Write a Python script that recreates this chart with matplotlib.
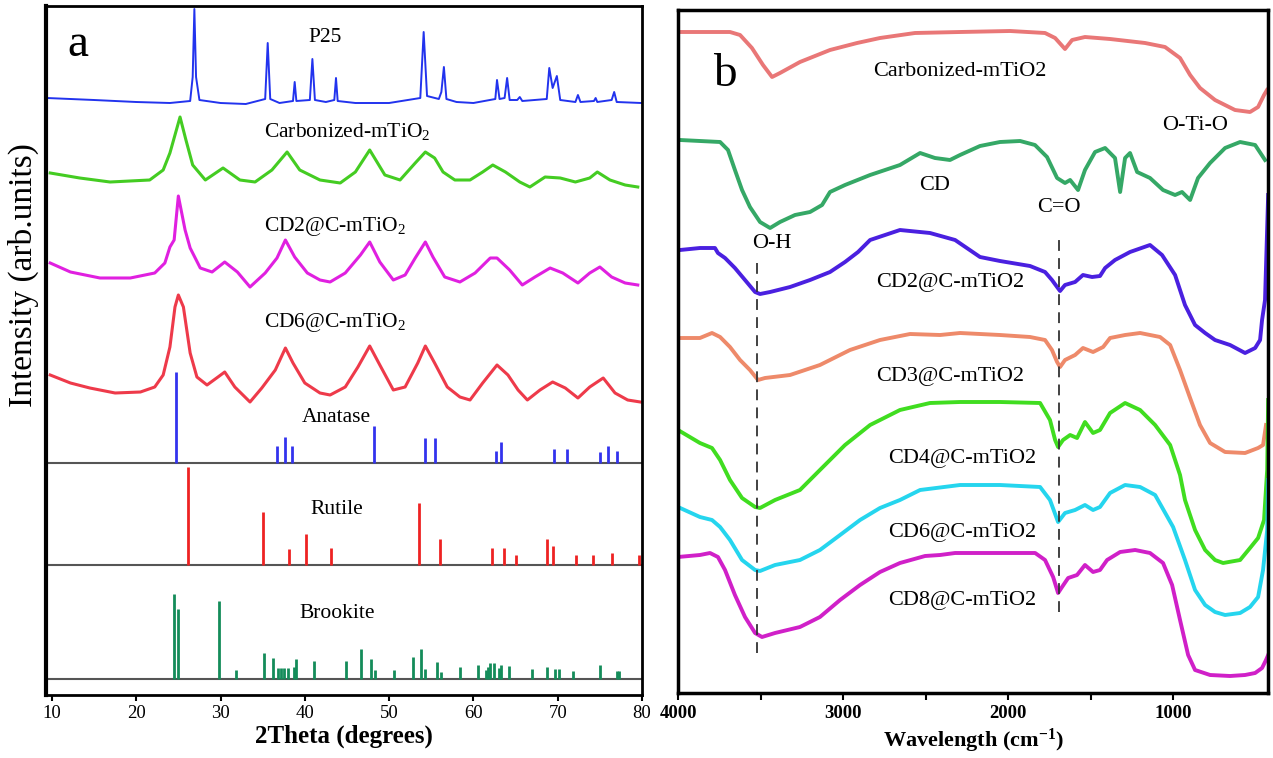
import numpy as np
from matplotlib import pyplot as plt

plt.rcParams['font.family'] = 'Liberation Serif'
plt.rcParams['mathtext.fontset'] = 'custom'
plt.rcParams['mathtext.rm'] = 'Liberation Serif'
plt.rcParams['mathtext.it'] = 'Liberation Serif:italic'
plt.rcParams['mathtext.bf'] = 'Liberation Serif:bold'

# ---------------- panel a : XRD patterns ----------------
p25_2t = [9.4, 15, 20, 24, 26.4, 26.7, 26.9, 27.1, 27.5, 30, 33, 35.3, 35.6, 35.9, 37,
          38.6, 38.8, 39.0, 40.6, 40.9, 41.2, 42.5, 43.5, 43.7, 43.9, 46, 50, 53.7, 54.1,
          54.5, 55.9, 56.2, 56.5, 56.8, 58, 60, 62.6, 62.8, 63.1, 63.7, 64.0, 64.3, 65.2,
          65.5, 65.8, 68.7, 69.0, 69.4, 69.9, 70.3, 72.1, 72.4, 72.7, 74.3, 74.5, 74.7,
          76.4, 76.7, 77.0, 79.9]
p25_i = [4, 2, 0, -1, 1, 25, 93, 25, 2, -1, -2, 3, 59, 3, -1, 1, 20, 1, 2, 43, 2, 0, 2,
         24, 1, -1, -1, 4, 70, 6, 3, 10, 35, 3, 0, -1, 3, 22, 3, 4, 24, 2, 2, 5, 1, 3, 34,
         14, 26, 2, 0, 7, 0, 1, 4, 0, 2, 10, 0, -1]

carb_2t = [9.8, 13.3, 16.9, 21.6, 23.2, 24.0, 25.2, 25.9, 26.7, 28.2, 30.3, 32.3, 34.1,
           36.1, 37.9, 39.4, 41.8, 44.2, 46.0, 47.7, 49.5, 51.3, 53.1, 54.3, 55.4, 56.4,
           57.8, 59.6, 61.1, 62.3, 63.8, 65.5, 66.7, 68.5, 70.3, 72.1, 73.8, 74.7, 76.2,
           78.0, 79.5]
carb_i = [15, 10, 6, 8, 18, 35, 71, 48, 23, 8, 20, 8, 6, 18, 36, 18, 8, 5, 16, 38, 13, 8,
          25, 36, 30, 16, 8, 8, 16, 23, 16, 6, 1, 11, 10, 6, 10, 16, 8, 3, 1]

cd2_2t = [9.8, 12.2, 15.7, 19.3, 22.2, 23.4, 24.0, 24.5, 25.0, 25.8, 26.4, 27.6, 29.0,
          30.5, 32.0, 33.5, 35.3, 36.7, 37.7, 38.8, 40.3, 41.8, 43.0, 44.8, 46.6, 47.7,
          48.9, 50.5, 51.9, 53.1, 54.3, 55.2, 56.6, 58.4, 60.2, 62.0, 62.8, 64.3, 65.8,
          67.3, 69.1, 70.6, 72.4, 73.8, 75.0, 76.4, 78.0, 79.5]
cd2_i = [22, 13, 7, 7, 12, 22, 38, 45, 89, 55, 37, 17, 13, 23, 13, -2, 12, 27, 45, 28, 12,
         5, 3, 12, 30, 43, 23, 5, 10, 27, 43, 28, 8, 3, 12, 27, 27, 15, 0, 8, 17, 12, 2,
         12, 18, 8, 2, 0]

cd6_2t = [9.8, 12.2, 14.5, 17.5, 20.5, 22.2, 23.2, 24.0, 24.6, 25.0, 25.6, 26.4, 27.2,
          28.4, 29.7, 30.5, 31.7, 33.5, 34.9, 36.5, 37.7, 38.6, 40.0, 41.8, 43.0, 44.8,
          46.3, 47.7, 48.9, 50.5, 51.9, 53.4, 54.3, 55.4, 56.9, 58.4, 59.6, 61.1, 62.8,
          64.1, 65.3, 66.4, 67.9, 69.4, 70.9, 72.4, 73.8, 75.4, 76.8, 78.3, 79.8]
cd6_i = [25, 17, 12, 7, 8, 13, 25, 53, 93, 105, 93, 47, 23, 15, 23, 28, 13, -2, 12, 30,
         52, 37, 17, 7, 5, 13, 33, 54, 35, 10, 13, 37, 54, 37, 13, 3, 0, 17, 35, 25, 10,
         0, 10, 18, 12, 2, 13, 22, 7, 0, -2]

# reference cards (stick patterns)
ana_2t = [24.7, 36.7, 37.7, 38.5, 48.2, 54.2, 55.5, 62.7, 63.3, 69.6, 71.1, 75.0, 76.0, 77.0]
ana_h = [91, 17, 26, 17, 37, 25, 25, 12, 21, 14, 14, 11, 17, 12]

rut_2t = [26.1, 35.0, 38.1, 40.2, 43.1, 53.6, 56.0, 62.2, 63.6, 65.1, 68.7, 69.5, 72.2,
          74.2, 76.4, 79.7]
rut_h = [98, 53, 16, 31, 17, 62, 26, 17, 17, 10, 26, 19, 10, 10, 12, 10]

brk_2t = [24.5, 24.9, 29.8, 31.8, 35.2, 36.2, 36.8, 37.2, 37.5, 38.0, 38.7, 39.0, 41.1,
          44.9, 46.7, 47.8, 48.3, 50.6, 52.8, 53.8, 54.3, 55.7, 56.2, 58.4, 60.5, 61.5,
          61.7, 62.0, 62.4, 63.0, 63.3, 64.2, 67.0, 68.7, 69.7, 70.1, 71.8, 75.0, 77.0, 77.3]
brk_h = [85, 70, 78, 9, 26, 21, 11, 11, 11, 11, 12, 20, 18, 18, 30, 20, 9, 9, 22, 30, 10,
         17, 7, 12, 14, 9, 12, 16, 16, 11, 14, 13, 10, 12, 10, 10, 8, 14, 8, 8]

# ---------------- panel b : FTIR spectra ----------------
carb_wn = [3988, 3685, 3624, 3552, 3485, 3430, 3382, 3261, 3079, 2915, 2776, 2564, 2291,
           1988, 1776, 1715, 1655, 1612, 1534, 1382, 1170, 1049, 958, 897, 837, 746, 625,
           534, 485, 449, 431]
carb_t = [1, 1, -2, -15, -32, -44, -40, -29, -17, -10, -5, 0, 1, 2, 0, -5, -16, -7, -4, -6,
          -10, -14, -25, -42, -55, -67, -77, -79, -74, -62, -57]

cd_wn = [3988, 3745, 3697, 3655, 3612, 3564, 3503, 3442, 3382, 3291, 3200, 3127, 3079,
         2988, 2836, 2655, 2533, 2443, 2352, 2291, 2170, 2049, 1927, 1837, 1764, 1703,
         1655, 1624, 1576, 1534, 1473, 1412, 1352, 1321, 1291, 1261, 1218, 1140, 1061, 988,
         946, 897, 849, 776, 685, 594, 503, 443]
cd_t = [3, 1, -7, -27, -47, -64, -79, -85, -79, -72, -69, -62, -49, -42, -32, -22, -10,
        -15, -17, -12, -3, 1, 2, -2, -14, -35, -40, -37, -47, -27, -9, -5, -15, -49, -15,
        -10, -29, -35, -47, -52, -49, -57, -35, -20, -5, 1, -2, -17]

cd2_wn = [3988, 3867, 3776, 3758, 3715, 3655, 3594, 3533, 3503, 3442, 3321, 3200, 3079,
          2988, 2909, 2836, 2655, 2473, 2321, 2170, 2049, 1867, 1776, 1734, 1703, 1685,
          1655, 1594, 1546, 1491, 1443, 1412, 1352, 1261, 1140, 1067, 988, 928, 867, 806,
          746, 655, 564, 503, 473, 461, 443, 424]
cd2_t = [3, 5, 5, 0, -5, -15, -27, -39, -41, -39, -34, -27, -19, -9, 1, 13, 23, 20, 13, -4,
         -8, -13, -19, -27, -34, -38, -32, -29, -22, -24, -23, -15, -7, 1, 8, -2, -22, -52,
         -72, -80, -87, -92, -100, -95, -87, -67, -47, 58]

cd3_wn = [3988, 3867, 3794, 3745, 3685, 3624, 3564, 3515, 3473, 3321, 3140, 2958, 2776,
          2594, 2412, 2291, 2049, 1867, 1776, 1734, 1703, 1685, 1655, 1594, 1546, 1485,
          1424, 1382, 1291, 1200, 1079, 1018, 958, 897, 837, 776, 685, 564, 485, 455, 437]
cd3_t = [0, 0, 5, 1, -9, -22, -32, -42, -40, -37, -27, -12, -2, 4, 3, 5, 3, 1, -2, -12,
         -24, -29, -22, -17, -10, -14, -9, 0, 3, 5, 1, -7, -32, -60, -87, -105, -114, -115,
         -110, -107, -87]

cd4_wn = [4000, 3867, 3794, 3745, 3685, 3612, 3533, 3503, 3412, 3261, 3140, 2988, 2836,
          2655, 2473, 2291, 2049, 1806, 1746, 1715, 1697, 1667, 1624, 1582, 1534, 1485,
          1443, 1382, 1291, 1200, 1109, 1018, 958, 928, 867, 806, 746, 697, 594, 534, 485,
          449, 430, 424]
cd4_t = [-27, -40, -45, -57, -77, -95, -104, -105, -97, -87, -67, -42, -22, -7, 0, 1, 1, 0,
         -17, -37, -44, -37, -32, -35, -19, -30, -27, -10, 0, -7, -22, -42, -72, -97, -127,
         -147, -157, -160, -157, -145, -135, -117, -67, 3]

cd6_wn = [4000, 3867, 3794, 3745, 3685, 3612, 3533, 3503, 3412, 3261, 3140, 3018, 2897,
          2776, 2655, 2533, 2291, 2049, 1806, 1746, 1697, 1655, 1594, 1534, 1485, 1443,
          1382, 1291, 1200, 1109, 1000, 928, 867, 806, 746, 685, 594, 534, 485, 455, 430, 424]
cd6_t = [-19, -29, -32, -39, -52, -72, -82, -83, -77, -72, -62, -47, -32, -20, -12, -2, 3,
         3, 1, -12, -34, -25, -22, -17, -22, -19, -5, 3, 1, -7, -39, -72, -102, -117, -124,
         -127, -125, -119, -109, -82, -42, 8]

cd8_wn = [4000, 3867, 3806, 3758, 3715, 3655, 3594, 3533, 3491, 3412, 3261, 3140, 3018,
          2897, 2776, 2655, 2503, 2412, 2321, 2049, 1836, 1776, 1727, 1697, 1673, 1636,
          1582, 1534, 1485, 1443, 1400, 1321, 1230, 1140, 1061, 1006, 958, 909, 867, 776,
          655, 564, 503, 461, 437, 424]
cd8_t = [-4, -2, 0, -4, -17, -42, -64, -80, -84, -80, -74, -64, -47, -32, -19, -10, -3, -2,
         0, 0, 0, -7, -24, -40, -34, -25, -22, -12, -19, -17, -7, 1, 3, 0, -10, -32, -67,
         -102, -117, -122, -123, -122, -120, -115, -107, -102]


fig = plt.figure(figsize=(12.73, 7.58), dpi=100)

# ---- panel a
axa = fig.add_axes([46/1273, 1-695/758, 596/1273, 689/758])
axa.set_xlim(9.3, 80)
axa.set_ylim(0, 689)

xrd = [(p25_2t, p25_i, 593, '#2233ee', 1.4, 'P25', 42.4, 657),
       (carb_2t, carb_i, 507, '#44cc22', 2.2, 'Carbonized-mTiO$_2$', 45.0, 563),
       (cd2_2t, cd2_i, 410, '#e020e0', 2.2, 'CD2@C-mTiO$_2$', 43.6, 468),
       (cd6_2t, cd6_i, 295, '#ee3a4a', 2.2, 'CD6@C-mTiO$_2$', 43.6, 372)]
for tt, ii, off, col, lw, lab, lx, ly in xrd:
    axa.plot(tt, np.array(ii) + off, color=col, lw=lw)
    axa.text(lx, ly, lab, ha='center', va='center', fontsize=15.5)

cards = [(ana_2t, ana_h, 232, '#3333ee', 'Anatase', 277),
         (rut_2t, rut_h, 130, '#ee2222', 'Rutile', 185),
         (brk_2t, brk_h, 16, '#148c5a', 'Brookite', 82)]
for tt, hh, base, col, lab, ly in cards:
    axa.axhline(base, color='#555555', lw=1.5)
    axa.vlines(tt, base, np.array(hh) + base, color=col, lw=2)
    axa.text(43.8, ly, lab, ha='center', va='center', fontsize=15.5)

axa.text(13.1, 650, 'a', ha='center', va='center', fontsize=34)
axa.set_xticks(range(10, 81, 10))
axa.set_yticks([])
axa.tick_params(axis='x', direction='out', length=4, width=1.5, labelsize=13.5, pad=3)
for s in axa.spines.values():
    s.set_linewidth(2)
axa.spines['left'].set_linewidth(3)
axa.set_xlabel('2Theta (degrees)', fontsize=18, fontweight='bold', labelpad=2)
axa.set_ylabel('Intensity (arb.units)', fontsize=24)
axa.yaxis.set_label_coords(-0.012, 0.61)

# ---- panel b
axb = fig.add_axes([678/1273, 1-693/758, 590/1273, 683/758])
axb.set_xlim(4000, 425)
axb.set_ylim(0, 683)

ftir = [(carb_wn, carb_t, 660, '#e97777', 'Carbonized-mTiO2', 2291, 621),
        (cd_wn, cd_t, 550, '#35a866', 'CD', 2443, 508),
        (cd2_wn, cd2_t, 440, '#4a20e0', 'CD2@C-mTiO2', 2352, 410),
        (cd3_wn, cd3_t, 355, '#ee8a6a', 'CD3@C-mTiO2', 2352, 316),
        (cd4_wn, cd4_t, 290, '#40dd20', 'CD4@C-mTiO2', 2279, 235),
        (cd6_wn, cd6_t, 205, '#25d5ee', 'CD6@C-mTiO2', 2279, 160),
        (cd8_wn, cd8_t, 140, '#d020c8', 'CD8@C-mTiO2', 2279, 93)]
for ww, tt, off, col, lab, lx, ly in ftir:
    axb.plot(ww, np.array(tt) + off, color=col, lw=2.8, solid_joinstyle='round')
    axb.text(lx, ly, lab, ha='center', va='center', fontsize=16)

axb.vlines(3520, 40, 431, color='#333333', lw=1.3, linestyles=(0, (6, 4)))
axb.vlines(1691, 81, 460, color='#333333', lw=1.3, linestyles=(0, (6, 4)))
axb.text(3430, 450, 'O-H', ha='center', va='center', fontsize=16)
axb.text(1691, 485, 'C=O', ha='center', va='center', fontsize=16)
axb.text(869, 568, 'O-Ti-O', ha='center', va='center', fontsize=16)
axb.text(3715, 618, 'b', ha='center', va='center', fontsize=34)

axb.set_xticks([4000, 3500, 3000, 2500, 2000, 1500, 1000])
axb.set_xticklabels(['4000', '', '3000', '', '2000', '', '1000'])
axb.set_yticks([])
axb.tick_params(axis='x', direction='out', length=5, width=1.5, labelsize=13.5, pad=4)
for lb in axb.get_xticklabels():
    lb.set_fontweight('bold')
for s in axb.spines.values():
    s.set_linewidth(2.5)
axb.set_xlabel('Wavelength (cm$^{\\mathbf{-1}}$)', fontsize=16, fontweight='bold', labelpad=3)

fig.savefig('out.png', dpi=100)
